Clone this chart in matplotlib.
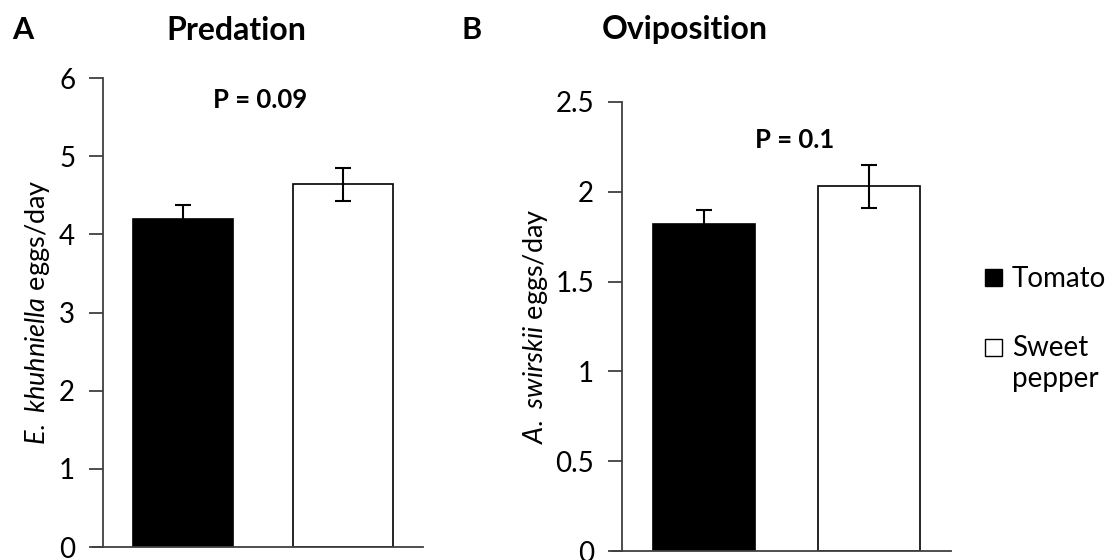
import matplotlib.pyplot as plt
from matplotlib.patches import Patch, Rectangle
from matplotlib.legend_handler import HandlerPatch

plt.rcParams['font.family'] = ['Lato', 'DejaVu Sans']
plt.rcParams['mathtext.fontset'] = 'custom'
plt.rcParams['mathtext.it'] = 'Lato:italic'
plt.rcParams['mathtext.rm'] = 'Lato'

# data
hosts = ["Tomato", "Sweet\npepper"]
predation = [4.20, 4.64]
predation_err = [0.18, 0.21]
oviposition = [1.82, 2.03]
oviposition_err = [0.08, 0.12]
colors = ["black", "white"]

fig = plt.figure(figsize=(11.14, 5.6), dpi=100)
axA = fig.add_axes([103 / 1114, 13 / 560, 320 / 1114, 469 / 560])
axB = fig.add_axes([622 / 1114, 9 / 560, 329 / 1114, 449 / 560])


def draw(ax, vals, errs, ymax, ticks, ticklabels, ylabel, label_x):
    x = range(len(vals))
    ax.bar(x, vals, width=0.62, color=colors, edgecolor="black", linewidth=1.2)
    ax.errorbar(x, vals, yerr=errs, fmt="none", ecolor="black",
                elinewidth=1.5, capsize=6, capthick=1.5)
    ax.set_xlim(-0.5, 1.5)
    ax.set_ylim(0, ymax)
    ax.set_yticks(ticks)
    ax.set_yticklabels(ticklabels)
    ax.set_xticks([])
    for s in ["top", "right"]:
        ax.spines[s].set_visible(False)
    for s in ["left", "bottom"]:
        ax.spines[s].set_color("#404040")
        ax.spines[s].set_linewidth(1.3)
    ax.tick_params(axis="y", direction="out", length=10, width=1.3,
                   color="#404040", labelsize=20, pad=10)
    ax.set_ylabel(ylabel, fontsize=19.5)
    ax.yaxis.set_label_coords(label_x, 0.5)
    ax.yaxis.label.set_verticalalignment("center")
    ax.spines["bottom"].set_bounds(-0.5, 1.5)
    return ax


draw(axA, predation, predation_err, 6, range(7), [str(i) for i in range(7)],
     r"$\mathit{E.}$ $\mathit{khuhniella}$ eggs/day", (38 - 103) / 320)
draw(axB, oviposition, oviposition_err, 2.5, [0, 0.5, 1, 1.5, 2, 2.5],
     ["0", "0.5", "1", "1.5", "2", "2.5"],
     r"$\mathit{A.}$ $\mathit{swirskii}$ eggs/day", (535 - 622) / 329)

# extend x-axis line a bit left of the y spine (excel style tick at 0)
for ax in (axA, axB):
    ax.axhline(0, xmin=-0.03, xmax=0, color="#404040", lw=1.3, clip_on=False)

fig.text(12 / 1114, 1 - 30 / 560, "A", fontsize=22, fontweight="bold", va="center")
fig.text(236 / 1114, 1 - 30 / 560, "Predation", fontsize=23, fontweight="bold",
         va="center", ha="center")
fig.text(462 / 1114, 1 - 30 / 560, "B", fontsize=22, fontweight="bold", va="center")
fig.text(685 / 1114, 1 - 30 / 560, "Oviposition", fontsize=23, fontweight="bold",
         va="center", ha="center")
fig.text(260 / 1114, 1 - 100 / 560, "P = 0.09", fontsize=18.5, fontweight="bold",
         va="center", ha="center")
fig.text(795 / 1114, 1 - 140 / 560, "P = 0.1", fontsize=18.5, fontweight="bold",
         va="center", ha="center")


def square(legend, orig_handle, xdescent, ydescent, width, height, fontsize):
    # align the square with the first text line
    shift = 0 if orig_handle.get_label() == "first" else fontsize * 0.6
    return Rectangle((-xdescent, -ydescent + shift), width, height)


handles = [Patch(facecolor=colors[0], edgecolor="black", linewidth=1, label="first"),
           Patch(facecolor=colors[1], edgecolor="black", linewidth=1, label="second")]
fig.legend(handles, hosts, loc="center left", bbox_to_anchor=(985 / 1114, 1 - 329 / 560),
           frameon=False, fontsize=20, handlelength=0.61, handleheight=0.61,
           handletextpad=0.36, labelspacing=1.55, borderpad=0, borderaxespad=0,
           handler_map={Patch: HandlerPatch(patch_func=square)})

fig.savefig("out.png", dpi=100)
